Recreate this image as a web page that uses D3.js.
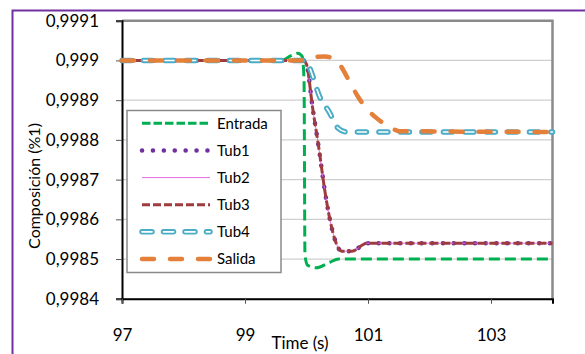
<!DOCTYPE html>
<html>
<head>
<meta charset="utf-8">
<script src="https://cdn.jsdelivr.net/npm/d3@7"></script>
<style>
  body { margin: 0; background: #fff; }
  text { font-family: Lato, "Open Sans", sans-serif; fill: #000; }
</style>
</head>
<body>
<div id="chart"></div>
<script>
// values, [time (s), composition]
const entrada = [[97, 0.999], [99.6, 0.999], [99.75, 0.999012], [99.86, 0.999018], [99.93, 0.99901],
  [99.96, 0.99895], [99.975, 0.99851], [100.02, 0.998484], [100.16, 0.998478], [100.38, 0.998492],
  [100.52, 0.9985], [104, 0.9985]]
const tub1 = [[97, 0.999], [99.95, 0.999], [100.0, 0.99899], [100.1, 0.99888], [100.2, 0.99878],
  [100.3, 0.99867], [100.38, 0.9986], [100.46, 0.99855], [100.57, 0.99852], [100.74, 0.99852],
  [100.98, 0.99854], [104, 0.99854]]
const tub2 = [[97, 0.999], [99.95, 0.999], [100.0, 0.99899], [100.1, 0.99888], [100.2, 0.99878],
  [100.3, 0.99867], [100.38, 0.9986], [100.46, 0.99855], [100.57, 0.99852], [100.74, 0.99852],
  [100.98, 0.99854], [104, 0.99854]]
const tub3 = [[97, 0.999], [99.95, 0.999], [100.0, 0.99899], [100.1, 0.99888], [100.2, 0.99878],
  [100.3, 0.99867], [100.38, 0.9986], [100.46, 0.99855], [100.57, 0.99852], [100.74, 0.99852],
  [100.98, 0.99854], [104, 0.99854]]
const tub4 = [[97, 0.999], [99.98, 0.999], [100.03, 0.99899], [100.08, 0.99897], [100.21, 0.99891],
  [100.37, 0.99887], [100.51, 0.99883], [100.65, 0.99882], [100.86, 0.99882], [104, 0.99882]]
const salida = [[97, 0.999], [99.9, 0.999], [100.1, 0.999008], [100.3, 0.99901], [100.48, 0.999],
  [100.73, 0.998938], [100.84, 0.998908], [101.0, 0.998875], [101.13, 0.998856], [101.35, 0.998833],
  [101.51, 0.998822], [104, 0.99882]]

const seriesNames = ["Entrada", "Tub1", "Tub2", "Tub3", "Tub4", "Salida"]
const xTicks = [97, 99, 101, 103]
const yTicks = [0.9984, 0.9985, 0.9986, 0.9987, 0.9988, 0.9989, 0.999, 0.9991]

;(function () {
  const W = 585, H = 354
  const plot = { left: 122, right: 552.5, top: 20.7, bottom: 298.8 }

  const svg = d3.select("#chart").append("svg")
    .attr("width", W)
    .attr("height", H)

  // purple frame round the whole chart (cut off at right/bottom in the original)
  svg.append("rect")
    .attr("x", 12.5).attr("y", 10.5)
    .attr("width", 700).attr("height", 500)
    .attr("fill", "none")
    .attr("stroke", "#7030A0")
    .attr("stroke-width", 2)

  const x = d3.scaleLinear().domain([97, 104]).range([plot.left, plot.right])
  const y = d3.scaleLinear().domain([0.9984, 0.9991]).range([plot.bottom, plot.top])

  // gridlines
  svg.append("g").selectAll("line")
    .data(yTicks)
    .enter().append("line")
    .attr("x1", plot.left).attr("x2", plot.right)
    .attr("y1", d => y(d)).attr("y2", d => y(d))
    .attr("stroke", "#cfcfcf")
    .attr("stroke-width", 1.2)

  // gray top/right border of plot area
  svg.append("path")
    .attr("d", `M${plot.left},${plot.top}H${plot.right}V${plot.bottom}`)
    .attr("fill", "none")
    .attr("stroke", "#8a8a8a")
    .attr("stroke-width", 2.5)

  const fmt = d => String(+d.toFixed(4)).replace(".", ",")

  const yAxis = svg.append("g")
    .attr("transform", `translate(${plot.left},0)`)
    .call(d3.axisLeft(y).tickValues(yTicks).tickFormat(fmt).tickSize(6).tickPadding(17))
  yAxis.select(".domain").attr("stroke", "#000").attr("stroke-width", 2)
  yAxis.selectAll(".tick line").attr("stroke", "#555")
  yAxis.selectAll("text").attr("font-size", "17px").style("font-family", "Lato")

  const xAxis = svg.append("g")
    .attr("transform", `translate(0,${plot.bottom})`)
    .call(d3.axisBottom(x).tickValues(xTicks).tickFormat(d => d).tickSize(5).tickPadding(25))
  xAxis.select(".domain").attr("stroke", "#000").attr("stroke-width", 2)
  xAxis.selectAll(".tick line").attr("stroke", "#555")
  xAxis.selectAll("text").attr("font-size", "17px").style("font-family", "Lato")

  svg.append("text")
    .attr("x", 300).attr("y", 349)
    .attr("text-anchor", "middle")
    .attr("font-size", "17px")
    .text("Time (s)")

  svg.append("text")
    .attr("transform", "translate(40,186) rotate(-90)")
    .attr("text-anchor", "middle")
    .attr("font-size", "16px")
    .text("Composición (%1)")

  const line = d3.line()
    .x(d => x(d[0]))
    .y(d => y(d[1]))
    .curve(d3.curveMonotoneX)

  // each style is a list of stroke layers drawn on top of each other
  const styles = {
    Entrada: [{ stroke: "#00B050", width: 3, dash: "11,5", cap: "butt" }],
    Tub1: [{ stroke: "#7030A0", width: 4.5, dash: "0.1,10.6", cap: "round" }],
    Tub2: [{ stroke: "#E56BE5", width: 1, dash: null, cap: "butt" }],
    Tub3: [{ stroke: "#9E3B3E", width: 3, dash: "9,3", cap: "butt" }],
    Tub4: [{ stroke: "#4BACC6", width: 5.5, dash: "9,12.5", cap: "round" },
           { stroke: "#ffffff", width: 1.6, dash: "9,12.5", cap: "round" }],
    Salida: [{ stroke: "#E4803A", width: 4.5, dash: "12,16", cap: "round" }]
  }
  const legendStyles = {
    Entrada: [{ stroke: "#00B050", width: 3, dash: "8.5,3", cap: "butt" }],
    Tub1: [{ stroke: "#7030A0", width: 4.5, dash: "0.1,10.8", cap: "round" }],
    Tub2: [{ stroke: "#E56BE5", width: 1, dash: null, cap: "butt" }],
    Tub3: [{ stroke: "#9E3B3E", width: 3, dash: "8,3", cap: "butt" }],
    Tub4: [{ stroke: "#4BACC6", width: 5.5, dash: "10,11.5", cap: "round" },
           { stroke: "#ffffff", width: 1.8, dash: "10,11.5", cap: "round" }],
    Salida: [{ stroke: "#E4803A", width: 4.5, dash: "12,16", cap: "round" }]
  }

  const seriesData = [entrada, tub1, tub2, tub3, tub4, salida]

  const lines = svg.append("g")
  seriesNames.forEach(function (name, i) {
    styles[name].forEach(function (s) {
      lines.append("path")
        .datum(seriesData[i])
        .attr("d", line)
        .attr("fill", "none")
        .attr("stroke", s.stroke)
        .attr("stroke-width", s.width)
        .attr("stroke-dasharray", s.dash)
        .attr("stroke-linecap", s.cap)
        .attr("stroke-linejoin", "round")
    })
  })

  // legend
  const lg = svg.append("g")
  lg.append("rect")
    .attr("x", 127).attr("y", 110.5)
    .attr("width", 154).attr("height", 162)
    .attr("fill", "#fff")
    .attr("stroke", "#8a8a8a")
    .attr("stroke-width", 1.5)

  const rowY = d3.scalePoint().domain(seriesNames).range([123.3, 259])

  seriesNames.forEach(function (name) {
    const yy = rowY(name)
    legendStyles[name].forEach(function (s) {
      lg.append("line")
        .attr("x1", 142).attr("x2", 210)
        .attr("y1", yy).attr("y2", yy)
        .attr("stroke", s.stroke)
        .attr("stroke-width", s.width)
        .attr("stroke-dasharray", s.dash)
        .attr("stroke-linecap", s.cap)
    })
    lg.append("text")
      .attr("x", 217).attr("y", yy)
      .attr("dy", "0.36em")
      .attr("font-size", "15px")
      .text(name)
  })
})()
</script>
</body>
</html>
